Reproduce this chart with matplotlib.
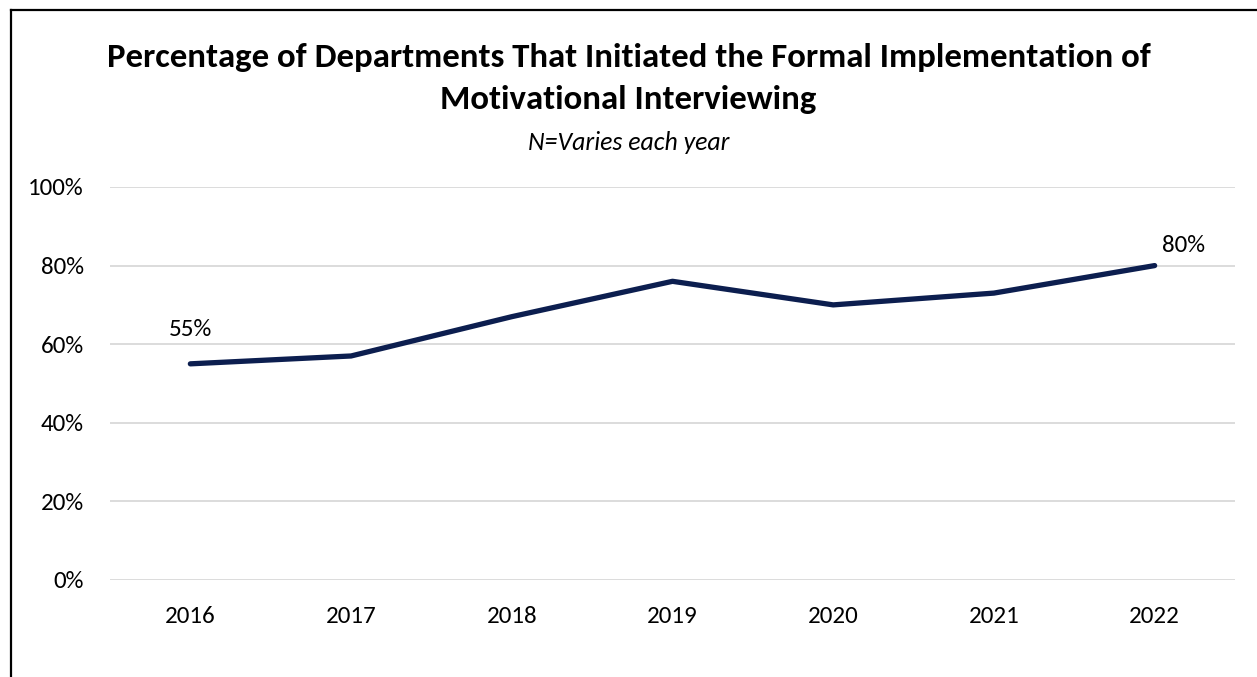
import matplotlib
matplotlib.use("Agg")
import matplotlib.pyplot as plt
from matplotlib import font_manager
from matplotlib.lines import Line2D

years = ["2016", "2017", "2018", "2019", "2020", "2021", "2022"]
values = [55, 57, 67, 76, 70, 73, 80]
yticks = [0, 20, 40, 60, 80, 100]
ytick_labels = ["0%", "20%", "40%", "60%", "80%", "100%"]

names = {f.name for f in font_manager.fontManager.ttflist}
fam = "Carlito" if "Carlito" in names else "Lato"
plt.rcParams["font.family"] = [fam, "DejaVu Sans"]

fig = plt.figure(figsize=(12.57, 6.77), dpi=100)
ax = fig.add_axes([0.0875, 0.1433, 0.895, 0.5805])

x = list(range(len(years)))
ax.plot(x, values, color="#0C1E4F", lw=3.8, solid_capstyle="round", solid_joinstyle="round", zorder=3)
ax.set_xlim(-0.5, len(years) - 0.5)
ax.set_ylim(0, 100)
ax.set_yticks(yticks)
ax.set_yticklabels(ytick_labels)
ax.set_xticks(x)
ax.set_xticklabels(years)
ax.grid(axis="y", color="#D9D9D9", lw=1.3)
ax.set_axisbelow(True)
for s in ax.spines.values():
    s.set_visible(False)
ax.tick_params(length=0, labelsize=18, colors="#000000")
ax.tick_params(axis="x", pad=19)
ax.tick_params(axis="y", pad=19)

ax.annotate(f"{values[0]}%", (x[0], values[0]), xytext=(0, 17), textcoords="offset points",
            ha="center", va="bottom", fontsize=18)
ax.annotate(f"{values[-1]}%", (x[-1], values[-1]), xytext=(5, 7), textcoords="offset points",
            ha="left", va="bottom", fontsize=18)

fig.text(0.5, 1 - 57 / 677, "Percentage of Departments That Initiated the Formal Implementation of",
         ha="center", va="center", fontsize=25, fontweight="bold")
fig.text(0.5, 1 - 100 / 677, "Motivational Interviewing",
         ha="center", va="center", fontsize=25, fontweight="bold")
fig.text(0.5, 1 - 142 / 677, "N=Varies each year", ha="center", va="center",
         fontsize=18.5, style="italic")

fig.add_artist(Line2D([11 / 1257, 11 / 1257], [0, 1 - 10 / 677], transform=fig.transFigure,
                      color="black", lw=1.6))
fig.add_artist(Line2D([11 / 1257, 1], [1 - 10 / 677, 1 - 10 / 677], transform=fig.transFigure,
                      color="black", lw=1.6))

fig.savefig("out.png", dpi=100, facecolor="white")
